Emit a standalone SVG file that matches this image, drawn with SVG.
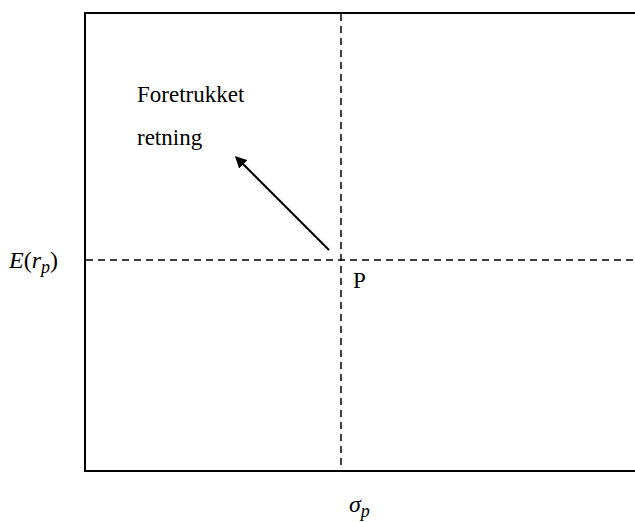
<svg xmlns="http://www.w3.org/2000/svg" width="635" height="522" viewBox="0 0 635 522">
<defs>
<style>
.t{font-family:"Liberation Serif","Times New Roman",serif;font-size:23px;fill:#000}
.m{font-family:"Liberation Serif","DejaVu Serif",serif;font-style:italic;fill:#000}
.d{stroke:#000;stroke-width:1.5;stroke-dasharray:7,5;fill:none}
.b{stroke:#000;stroke-width:2;fill:none}
</style>
<marker id="ah" markerWidth="12" markerHeight="12" refX="9" refY="6" orient="auto" markerUnits="userSpaceOnUse" viewBox="0 0 12 12">
<path d="M0,0 L12,6 L0,12 z" fill="#000"/>
</marker>
</defs>
<rect width="635" height="522" fill="#fff"/>
<g id="frame">
<path class="b" d="M635,13 H85 V471 H635"/>
</g>
<g id="connectors">
<line class="d" x1="86" y1="260" x2="635" y2="260"/>
<line class="d" x1="341" y1="14" x2="341" y2="470"/>
<line x1="329" y1="250" x2="237" y2="158" stroke="#000" stroke-width="2" marker-end="url(#ah)"/>
</g>
<g id="labels">
<text class="t" x="137" y="102">Foretrukket</text>
<text class="t" x="137" y="145">retning</text>
<text class="t" x="353" y="288">P</text>
<text class="m" x="9" y="268" font-size="24">E<tspan font-style="normal">(</tspan>r<tspan font-size="18" dy="5">p</tspan><tspan font-style="normal" dy="-5">)</tspan></text>
<text class="m" x="349" y="512" font-size="24">σ<tspan font-size="18" dy="5">p</tspan></text>
</g>
</svg>
